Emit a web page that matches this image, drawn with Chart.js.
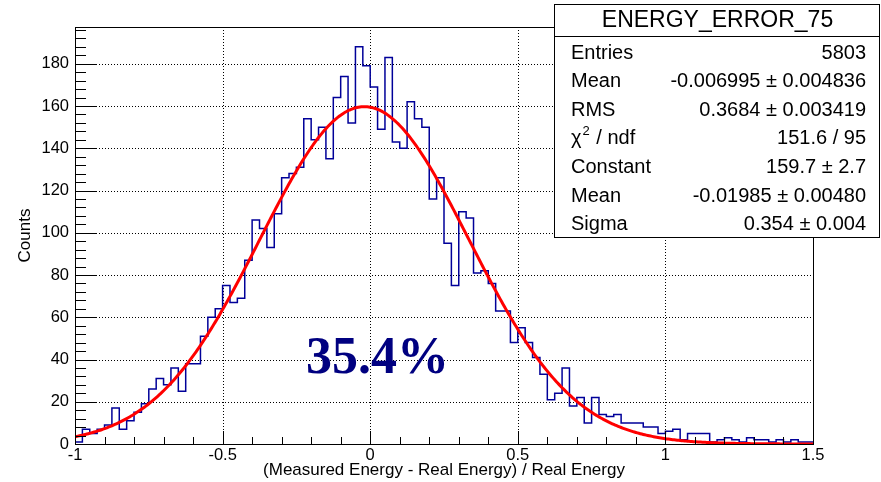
<!DOCTYPE html>
<html>
<head>
<meta charset="utf-8">
<script src="https://cdn.jsdelivr.net/npm/chart.js@4.4.1/dist/chart.umd.min.js"></script>
<style>
  html, body { margin: 0; padding: 0; background: #fff; }
  canvas { display: block; }
</style>
</head>
<body>
<canvas id="energyError" width="881" height="482"></canvas>
<script>
// Histogram binning: 100 bins over [-1, 1.5]
const binLow = -1;
const binHigh = 1.5;
const binWidth = 0.025;

// Counts per bin, left to right
const counts = [
  1, 7, 5, 7, 9, 17, 7, 11, 15, 19,
  26, 31, 28, 36, 25, 38, 38, 51, 60, 64,
  75, 67, 69, 87, 106, 102, 93, 109, 126, 128,
  131, 154, 144, 150, 135, 164, 174, 152, 188, 179,
  169, 149, 183, 143, 140, 162, 154, 150, 116, 126,
  95, 75, 110, 107, 81, 82, 76, 63, 63, 48,
  55, 48, 41, 33, 21, 24, 36, 18, 22, 10,
  22, 14, 13, 14, 10, 10, 10, 8, 8, 5,
  6, 7, 2, 5, 5, 5, 1, 2, 3, 2,
  1, 3, 2, 2, 1, 2, 1, 2, 1, 1
];

// Gaussian fit result
const fitConstant = 159.7;
const fitMean = -0.01985;
const fitSigma = 0.354;

// Stats box
const statsTitle = 'ENERGY_ERROR_75';
const statLabels = ['Entries', 'Mean', 'RMS', 'chi2', 'Constant', 'Mean', 'Sigma'];
const statValues = [
  '5803',
  '-0.006995 \u00b1 0.004836',
  '0.3684 \u00b1 0.003419',
  '151.6 / 95',
  '159.7 \u00b1 2.7',
  '-0.01985 \u00b1 0.00480',
  '0.354 \u00b1 0.004'
];

const xTitle = '(Measured Energy - Real Energy) / Real Energy';
const yTitle = 'Counts';
const yMax = 197.4;

const SANS = '"Liberation Sans", Arial, Helvetica, sans-serif';
Chart.defaults.font.family = SANS;
Chart.defaults.color = '#000';

// step outline: one point per left bin edge plus the closing edge
const histPoints = counts.map((c, i) => ({ x: binLow + i * binWidth, y: c }));
histPoints.push({ x: binHigh, y: counts[counts.length - 1] });

const gaus = (x) => fitConstant * Math.exp(-0.5 * Math.pow((x - fitMean) / fitSigma, 2));
const fitPoints = [];
for (let i = 0; i <= 500; i++) {
  const x = binLow + (binHigh - binLow) * i / 500;
  fitPoints.push({ x: x, y: gaus(x) });
}

const crisp = (v) => Math.round(v) + 0.5;

const rootFrame = {
  id: 'rootFrame',
  beforeDatasetsDraw(chart) {
    const { ctx, chartArea: a, scales: { x, y } } = chart;
    ctx.save();
    ctx.strokeStyle = '#000';
    ctx.lineWidth = 1;
    ctx.setLineDash([1, 2]);
    for (const v of [-0.5, 0, 0.5, 1]) {
      const px = crisp(x.getPixelForValue(v));
      ctx.beginPath();
      ctx.moveTo(px, a.top);
      ctx.lineTo(px, a.bottom);
      ctx.stroke();
    }
    for (let v = 20; v <= 180; v += 20) {
      const py = crisp(y.getPixelForValue(v));
      ctx.beginPath();
      ctx.moveTo(a.left, py);
      ctx.lineTo(a.right, py);
      ctx.stroke();
    }
    ctx.restore();
  },
  afterDatasetsDraw(chart) {
    const { ctx, chartArea: a, scales: { x, y } } = chart;
    ctx.save();
    ctx.strokeStyle = '#000';
    ctx.lineWidth = 1;
    ctx.strokeRect(crisp(a.left), crisp(a.top), Math.round(a.right - a.left), Math.round(a.bottom - a.top));

    // inward ticks on the left and bottom axes
    ctx.beginPath();
    for (let v = 0; v < yMax; v += 4) {
      const py = crisp(y.getPixelForValue(v));
      const len = v % 20 === 0 ? 22 : 11;
      ctx.moveTo(a.left, py);
      ctx.lineTo(a.left + len, py);
    }
    for (let k = 0; k <= 25; k++) {
      const px = crisp(x.getPixelForValue(binLow + k * 0.1));
      const len = k % 5 === 0 ? 13 : 7;
      ctx.moveTo(px, a.bottom);
      ctx.lineTo(px, a.bottom - len);
    }
    ctx.stroke();

    // axis titles
    ctx.fillStyle = '#000';
    ctx.font = '17px ' + SANS;
    ctx.textAlign = 'center';
    ctx.textBaseline = 'middle';
    ctx.fillText(xTitle, (a.left + a.right) / 2, 470);
    ctx.translate(25, (a.top + a.bottom) / 2);
    ctx.rotate(-Math.PI / 2);
    ctx.fillText(yTitle, 0, 0);
    ctx.restore();

    // resolution label from the fitted sigma
    ctx.save();
    ctx.fillStyle = '#000080';
    ctx.font = 'bold 52px "Liberation Serif", "Times New Roman", serif';
    ctx.textAlign = 'left';
    ctx.textBaseline = 'alphabetic';
    ctx.fillText((fitSigma * 100).toFixed(1) + '%', 306, 373);
    ctx.restore();

    // stats box
    ctx.save();
    const bx = 554, by = 4, bw = 325, bh = 233;
    ctx.fillStyle = '#fff';
    ctx.fillRect(bx, by, bw, bh);
    ctx.strokeStyle = '#000';
    ctx.lineWidth = 1;
    ctx.strokeRect(bx + 0.5, by + 0.5, bw, bh);
    ctx.beginPath();
    ctx.moveTo(bx, 36.5);
    ctx.lineTo(bx + bw, 36.5);
    ctx.stroke();

    ctx.fillStyle = '#000';
    ctx.textBaseline = 'middle';
    ctx.textAlign = 'center';
    ctx.font = '23px ' + SANS;
    ctx.fillText(statsTitle, bx + bw / 2 + 1, 21);

    ctx.font = '20px ' + SANS;
    statLabels.forEach((label, i) => {
      const cy = 53 + 28.6 * i;
      ctx.textAlign = 'left';
      if (label === 'chi2') {
        ctx.fillText('\u03c7', 571, cy);
        const w = ctx.measureText('\u03c7').width;
        ctx.font = '13px ' + SANS;
        ctx.fillText('2', 571 + w + 1, cy - 7);
        const w2 = ctx.measureText('2').width;
        ctx.font = '20px ' + SANS;
        ctx.fillText(' / ndf', 571 + w + w2 + 2, cy);
      } else {
        ctx.fillText(label, 571, cy);
      }
      ctx.textAlign = 'right';
      ctx.fillText(statValues[i], 866, cy);
    });
    ctx.restore();
  }
};

new Chart(document.getElementById('energyError'), {
  type: 'line',
  data: {
    datasets: [
      {
        label: statsTitle,
        data: histPoints,
        stepped: true,
        borderColor: '#000099',
        borderWidth: 1.5,
        pointRadius: 0,
        fill: false,
        order: 2
      },
      {
        label: 'gaus',
        data: fitPoints,
        borderColor: '#ff0000',
        borderWidth: 3,
        pointRadius: 0,
        tension: 0,
        fill: false,
        order: 1
      }
    ]
  },
  options: {
    responsive: false,
    animation: false,
    devicePixelRatio: 1,
    layout: { padding: { left: 0, right: 68, top: 27, bottom: 0 } },
    plugins: {
      legend: { display: false },
      tooltip: { enabled: false }
    },
    scales: {
      x: {
        type: 'linear',
        min: binLow,
        max: binHigh,
        afterFit: (s) => { s.height = 38; },
        grid: { display: false },
        border: { display: false },
        ticks: {
          stepSize: 0.5,
          autoSkip: false,
          maxRotation: 0,
          padding: -6,
          color: '#000',
          font: { size: 16.5 },
          callback: (v) => String(v)
        }
      },
      y: {
        type: 'linear',
        min: 0,
        max: yMax,
        afterFit: (s) => { s.width = 75; },
        grid: { display: false },
        border: { display: false },
        ticks: {
          stepSize: 20,
          includeBounds: false,
          padding: -2,
          color: '#000',
          font: { size: 16.5 },
          callback: (v) => String(v)
        }
      }
    }
  },
  plugins: [rootFrame]
});
</script>
</body>
</html>
